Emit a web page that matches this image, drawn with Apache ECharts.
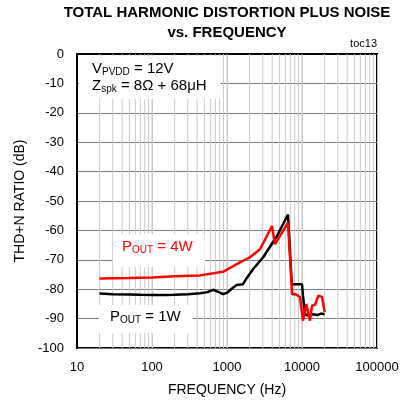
<!DOCTYPE html>
<html>
<head>
<meta charset="utf-8">
<script src="https://cdn.jsdelivr.net/npm/echarts@6/dist/echarts.min.js"></script>
<style>
  html, body { margin: 0; padding: 0; background: #fff; }
  #chart { width: 413px; height: 402px; }
</style>
</head>
<body>
<div id="chart"></div>
<script>
// POUT = 1W (black)
const freq1W = [20, 30, 50, 70, 100, 150, 200, 300, 437, 550, 651, 750, 885, 1000, 1200, 1347, 1635, 1800, 2221, 3020, 4642, 6500, 7300, 10000, 10300, 11000, 12000, 14000, 16000, 18000, 20000]
const thd1W = [-81.5, -81.7, -81.8, -81.9, -82.0, -82.0, -81.9, -81.7, -81.4, -81.0, -80.2, -80.8, -81.7, -81.2, -79.5, -78.6, -78.3, -76.5, -73.2, -69.2, -61.9, -54.6, -78.3, -78.3, -82.2, -88.5, -89.0, -88.5, -88.8, -88.3, -88.5]

// POUT = 4W (red)
const freq4W = [20, 50, 100, 200, 437, 885, 1347, 2000, 2754, 3981, 4365, 6506, 7390, 8300, 9400, 10300, 11400, 12800, 13600, 15000, 16500, 18500, 20000]
const thd4W = [-76.4, -76.2, -76.0, -75.6, -75.3, -74.1, -71.5, -69.2, -66.4, -58.5, -64.7, -57.4, -81.7, -81.7, -82.7, -90.7, -85.0, -90.7, -85.6, -85.2, -82.2, -82.6, -87.8]

const yTicks = [0, -10, -20, -30, -40, -50, -60, -70, -80, -90, -100]
const xTicks = [10, 100, 1000, 10000, 100000]

const font = "'Liberation Sans', Arial, sans-serif"

// light vertical grid lines at 2..9 of every decade
const vGrid = []
for (let d = 10; d <= 10000; d *= 10) {
  for (let k = 1; k <= 9; k++) {
    const f = d * k
    if (f > 10) vGrid.push([f, 0], [f, -100], [f, '-'])
  }
}

function pairs (xs, ys) {
  return xs.map((x, i) => [x, ys[i]])
}

function sub (color) {
  return {
    m: { fontFamily: font, fontSize: 15, lineHeight: 17, fill: color },
    s: { fontFamily: font, fontSize: 10, lineHeight: 17, fill: color, verticalAlign: 'bottom', padding: [5, 0, 0, 0] }
  }
}

const chart = echarts.init(document.getElementById('chart'))
chart.setOption({
  animation: false,
  grid: { left: 77, right: 36, top: 54, bottom: 52, show: true, borderColor: '#000', borderWidth: 2 },
  xAxis: {
    type: 'log',
    logBase: 10,
    min: 10,
    max: 100000,
    name: 'FREQUENCY (Hz)',
    nameLocation: 'middle',
    nameGap: 35,
    nameTextStyle: { fontFamily: font, fontSize: 14, color: '#000' },
    axisLine: { lineStyle: { color: '#000', width: 2 } },
    axisTick: { show: false },
    axisLabel: {
      fontFamily: font, fontSize: 13, color: '#000', margin: 13,
      formatter: v => xTicks.includes(v) ? String(v) : ''
    },
    splitLine: { show: true, lineStyle: { color: '#c8c8c8', width: 1 } }
  },
  yAxis: {
    type: 'value',
    min: -100,
    max: 0,
    interval: 10,
    name: 'THD+N RATIO (dB)',
    nameLocation: 'middle',
    nameGap: 50,
    nameTextStyle: { fontFamily: font, fontSize: 14, color: '#000' },
    axisLine: { show: true, lineStyle: { color: '#000', width: 2 } },
    axisTick: { show: false },
    axisLabel: {
      fontFamily: font, fontSize: 13, color: '#000', margin: 13,
      formatter: v => yTicks.includes(v) ? String(v) : ''
    },
    splitLine: { show: true, lineStyle: { color: '#7a7a7a', width: 1 } }
  },
  graphic: [
    {
      type: 'text', x: 227, y: 3, z: 100,
      style: {
        text: 'TOTAL HARMONIC DISTORTION PLUS NOISE\nvs. FREQUENCY',
        font: 'bold 15px ' + font,
        lineHeight: 20,
        align: 'center',
        fill: '#000'
      }
    },
    {
      type: 'text', right: 36, top: 38, z: 100,
      style: { text: 'toc13', font: '11px ' + font, fill: '#000' }
    },
    {
      type: 'text', left: 79, top: 56, z: 100,
      style: {
        text: '{m|V}{s|PVDD}{m| = 12V}\n{m|Z}{s|spk}{m| = 8\u03a9 + 68\u03bcH}',
        backgroundColor: '#fff',
        padding: [4, 14, 5, 13],
        rich: sub('#000')
      }
    },
    {
      type: 'text', left: 113, top: 234, z: 100,
      style: {
        text: '{m|P}{s|OUT}{m| = 4W}',
        backgroundColor: '#fff',
        padding: [4, 12, 12, 9],
        rich: sub('#ff0000')
      }
    },
    {
      type: 'text', left: 99, top: 305, z: 100,
      style: {
        text: '{m|P}{s|OUT}{m| = 1W}',
        backgroundColor: '#fff',
        padding: [3, 12, 8, 11],
        rich: sub('#000')
      }
    }
  ],
  series: [
    {
      name: 'grid',
      type: 'line',
      data: vGrid,
      z: 1,
      silent: true,
      showSymbol: false,
      connectNulls: false,
      lineStyle: { color: '#c8c8c8', width: 1 }
    },
    {
      name: '1W',
      type: 'line',
      data: pairs(freq1W, thd1W),
      showSymbol: false,
      lineStyle: { color: '#000', width: 2.5 },
      z: 3
    },
    {
      name: '4W',
      type: 'line',
      data: pairs(freq4W, thd4W),
      showSymbol: false,
      lineStyle: { color: '#ff0000', width: 2.5 },
      z: 4
    }
  ]
})
</script>
</body>
</html>
